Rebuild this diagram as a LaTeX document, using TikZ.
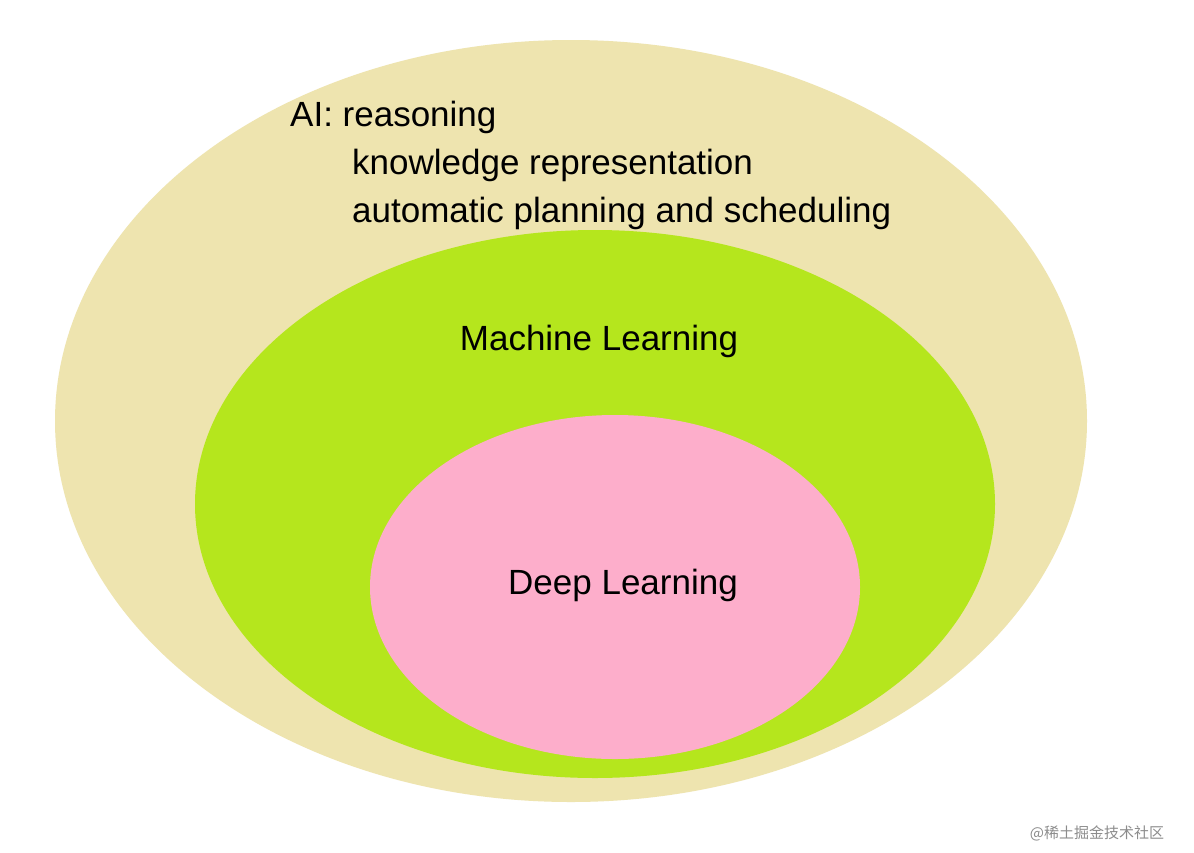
\documentclass[tikz,border=0pt]{standalone}
\usepackage{fontspec}
\setmainfont{Liberation Sans}
\newfontfamily\cjk{Noto Sans CJK SC}
\definecolor{aiC}{HTML}{EEE4AF}
\definecolor{mlC}{HTML}{B5E61D}
\definecolor{dlC}{HTML}{FDAECB}
\begin{document}
\begin{tikzpicture}[x=1pt,y=-1pt,
  lab/.style={inner sep=0pt,font=\fontsize{35}{48}\selectfont,text=black}]
\useasboundingbox[fill=white] (0,0) rectangle (1194,852);
\fill[aiC] (571,421) ellipse [x radius=516,y radius=381];
\fill[mlC] (595,504) ellipse [x radius=400,y radius=274];
\fill[dlC] (615,587) ellipse [x radius=245,y radius=172];
\node[lab,anchor=base west] (ai) at (290,126) {AI: reasoning};
\node[lab,anchor=base west] (k) at (352,174) {knowledge representation};
\node[lab,anchor=base west] (p) at (352,222) {automatic planning and scheduling};
\node[lab] (ml) at (599,341) {Machine Learning};
\node[lab] (dl) at (623,585) {Deep Learning};
\node[inner sep=0pt,font=\cjk\fontsize{15}{18}\selectfont,text=black!45] (wm) at (1097,833) {@稀土掘金技术社区};
\end{tikzpicture}
\end{document}
